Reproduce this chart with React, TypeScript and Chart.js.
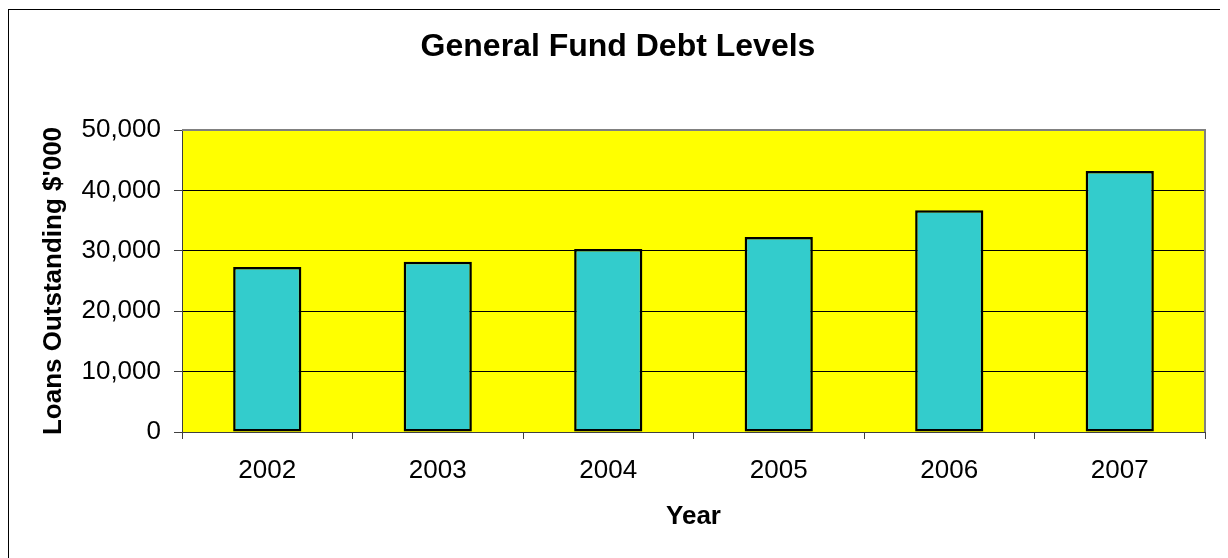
import React, { useEffect, useRef } from "react";
import { Chart, registerables } from "chart.js";

Chart.register(...registerables);

const years = ["2002", "2003", "2004", "2005", "2006", "2007"];
const loans = [27300, 28200, 30300, 32300, 36700, 43200];
const yTicks = [0, 10000, 20000, 30000, 40000, 50000];

const FONT = "'Liberation Sans', Arial, Helvetica, sans-serif";

const plotBg = {
  id: "plotBg",
  beforeDraw(chart: any) {
    const { ctx, chartArea } = chart;
    if (!chartArea) return;
    ctx.save();
    ctx.fillStyle = "#FFFF00";
    ctx.fillRect(chartArea.left, chartArea.top, chartArea.right - chartArea.left, chartArea.bottom - chartArea.top);
    ctx.restore();
  },
  afterDraw(chart: any) {
    const { ctx, chartArea } = chart;
    ctx.save();
    ctx.strokeStyle = "#808080";
    ctx.lineWidth = 2;
    ctx.beginPath();
    ctx.moveTo(chartArea.left, chartArea.top);
    ctx.lineTo(chartArea.right, chartArea.top);
    ctx.lineTo(chartArea.right, chartArea.bottom);
    ctx.stroke();
    ctx.strokeStyle = "#000000";
    ctx.lineWidth = 1;
    ctx.strokeRect(0.5, 1.5, 1213.5, 560);
    ctx.restore();
  },
};

export default function App() {
  const ref = useRef<HTMLCanvasElement | null>(null);

  useEffect(() => {
    if (!ref.current) return;
    const chart = new Chart(ref.current, {
      type: "bar",
      data: {
        labels: years,
        datasets: [
          {
            label: "Loans Outstanding",
            data: loans,
            backgroundColor: "#33CCCC",
            borderColor: "#000000",
            borderWidth: 2.5,
            borderSkipped: false,
            barPercentage: 0.4,
            categoryPercentage: 1,
          },
        ],
      },
      options: {
        responsive: false,
        animation: false,
        layout: { padding: { left: 0, right: 0, top: 0, bottom: 0 } },
        plugins: {
          legend: { display: false },
          tooltip: { enabled: false },
          title: {
            display: true,
            text: "General Fund Debt Levels",
            color: "#000",
            font: { family: FONT, size: 32, weight: "bold", lineHeight: 1.2 },
            padding: { top: 20, bottom: 63.6 },
          },
        },
        scales: {
          x: {
            afterFit(scale: any) {
              scale.height = 126;
            },
            grid: {
              offset: true,
              drawOnChartArea: false,
              drawTicks: true,
              tickLength: 7,
              color: "#404040",
            },
            border: { display: true, color: "#404040", width: 1 },
            ticks: {
              color: "#000",
              padding: 16,
              font: { family: FONT, size: 26 },
              maxRotation: 0,
            },
            title: {
              display: true,
              text: "Year",
              color: "#000",
              font: { family: FONT, size: 26, weight: "bold", lineHeight: 1.2 },
              padding: { top: 0, bottom: 26 },
            },
          },
          y: {
            min: 0,
            max: 50000,
            afterFit(scale: any) {
              scale.width = 174;
            },
            afterBuildTicks(scale: any) {
              scale.ticks = yTicks.map((v) => ({ value: v }));
            },
            grid: {
              color: (c: any) => (c.tick && c.tick.value === 50000 ? "#808080" : "#000000"),
              lineWidth: 1,
              drawTicks: true,
              tickLength: 8,
              tickColor: "#404040",
            },
            border: { display: true, color: "#404040", width: 1 },
            ticks: {
              color: "#000",
              padding: 13,
              font: { family: FONT, size: 26 },
              callback: (v: any) => Number(v).toLocaleString("en-US"),
            },
            title: {
              display: true,
              text: "Loans Outstanding $'000",
              color: "#000",
              font: { family: FONT, size: 26, weight: "bold", lineHeight: 1.2 },
              padding: { top: 30, bottom: 0 },
            },
          },
          yRight: {
            position: "right",
            display: true,
            min: 0,
            max: 1,
            afterFit(scale: any) {
              scale.width = 23;
            },
            grid: { drawOnChartArea: false, drawTicks: false, display: false },
            border: { display: false },
            ticks: { display: false },
          },
        },
      },
      plugins: [plotBg],
    });
    return () => chart.destroy();
  }, []);

  return (
    <canvas
      ref={ref}
      width={1220}
      height={550}
      style={{ display: "block", width: 1220, height: 550 }}
    />
  );
}
